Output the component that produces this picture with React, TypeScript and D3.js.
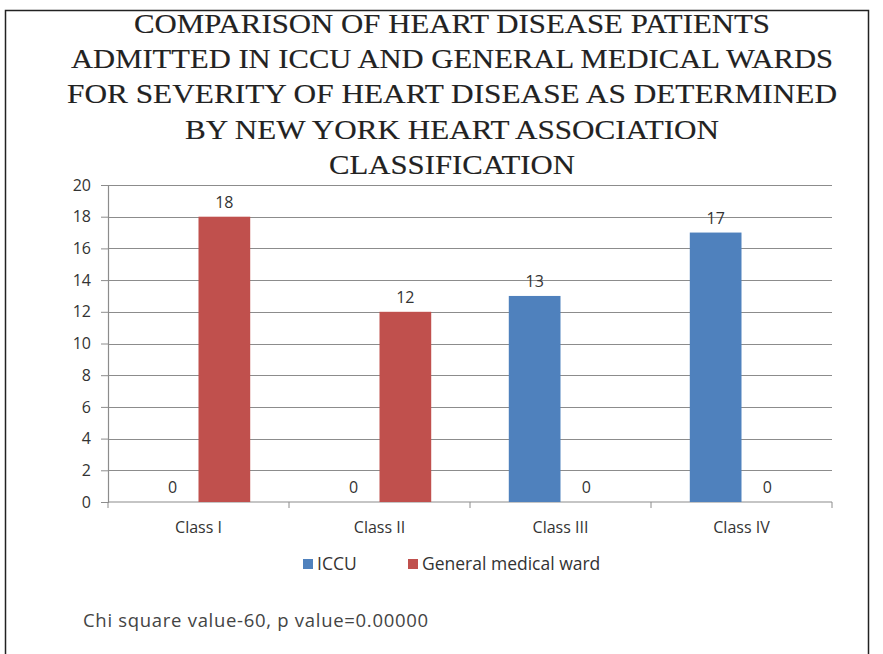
import React, { useEffect, useRef } from 'react';
import * as d3 from 'd3';

const titleLines = [
  'COMPARISON OF HEART DISEASE PATIENTS',
  'ADMITTED IN ICCU AND GENERAL MEDICAL WARDS',
  'FOR  SEVERITY OF HEART DISEASE AS DETERMINED',
  'BY NEW YORK HEART ASSOCIATION',
  'CLASSIFICATION',
];
const categories = ['Class I', 'Class II', 'Class III', 'Class IV'];
const seriesNames = ['ICCU', 'General medical ward'];
const iccu = [0, 0, 13, 17];
const generalWard = [18, 12, 0, 0];
const yTicks = [0, 2, 4, 6, 8, 10, 12, 14, 16, 18, 20];
const footnote = 'Chi square value-60, p value=0.00000';

const colors = ['#4f81bd', '#c0504d'];
// rendered widths of the title lines in the original
const titleWidths = [636, 762, 770, 534, 246];

const App = () => {
  const ref = useRef<SVGSVGElement>(null);

  useEffect(() => {
    const W = 883;
    const H = 654;
    const margin = { top: 185, right: 51, bottom: 152, left: 108 };
    const width = W - margin.left - margin.right;
    const height = H - margin.top - margin.bottom;
    const sans = '"Open Sans", Lato, sans-serif';

    const svg = d3.select(ref.current);
    svg.selectAll('*').remove();

    svg.append('rect').attr('width', W).attr('height', H).attr('fill', '#fff');

    // frame
    svg
      .append('path')
      .attr('d', `M5.5,${H} V10.5 H868.5 V${H}`)
      .attr('fill', 'none')
      .attr('stroke', '#222')
      .attr('stroke-width', 1.5);

    // title
    svg
      .append('g')
      .selectAll('text')
      .data(titleLines)
      .join('text')
      .attr('x', 452)
      .attr('y', (d, i) => 33 + i * 35.2)
      .attr('text-anchor', 'middle')
      .attr('font-family', '"Liberation Serif", "Times New Roman", serif')
      .attr('font-size', 27)
      .attr('fill', '#222')
      .attr('stroke', '#222')
      .attr('stroke-width', 0.15)
      .attr('textLength', (d, i) => titleWidths[i])
      .attr('lengthAdjust', 'spacingAndGlyphs')
      .text((d) => d);

    const g = svg.append('g').attr('transform', `translate(${margin.left},${margin.top})`);

    const x0 = d3.scaleBand().domain(categories).range([0, width]).paddingInner(0).paddingOuter(0);
    const x1 = d3
      .scaleBand()
      .domain(seriesNames)
      .range([0, x0.bandwidth()])
      .paddingInner(0)
      .paddingOuter(0.75);
    const y = d3.scaleLinear().domain([0, 20]).range([height, 0]);

    // gridlines
    g.append('g')
      .selectAll('line')
      .data(yTicks.filter((t) => t > 0))
      .join('line')
      .attr('x1', 0)
      .attr('x2', width)
      .attr('y1', (d) => Math.round(y(d)) + 0.5)
      .attr('y2', (d) => Math.round(y(d)) + 0.5)
      .attr('stroke', '#8c8c8c')
      .attr('stroke-width', 1.2);

    // y axis
    const yAxis = g
      .append('g')
      .call(d3.axisLeft(y).tickValues(yTicks).tickSize(7).tickPadding(10));
    yAxis.select('.domain').attr('stroke', '#8c8c8c').attr('stroke-width', 1.2);
    yAxis.selectAll('line').attr('stroke', '#8c8c8c');
    yAxis
      .selectAll('text')
      .attr('font-family', sans)
      .attr('font-size', 16)
      .attr('fill', '#333');

    // x axis
    const xAxisG = g.append('g').attr('transform', `translate(0,${height})`);
    xAxisG
      .append('line')
      .attr('x1', 0)
      .attr('x2', width)
      .attr('stroke', '#8c8c8c')
      .attr('stroke-width', 1.2);
    xAxisG
      .selectAll('line.tick')
      .data(d3.range(categories.length + 1))
      .join('line')
      .attr('class', 'tick')
      .attr('x1', (i) => (i === categories.length ? width : x0(categories[i])!))
      .attr('x2', (i) => (i === categories.length ? width : x0(categories[i])!))
      .attr('y1', 0)
      .attr('y2', 6)
      .attr('stroke', '#8c8c8c');
    xAxisG
      .selectAll('text')
      .data(categories)
      .join('text')
      .attr('x', (d) => x0(d)! + x0.bandwidth() / 2)
      .attr('y', 31)
      .attr('text-anchor', 'middle')
      .attr('font-family', sans)
      .attr('font-size', 16)
      .attr('fill', '#333')
      .text((d) => d);

    // bars
    const rows = categories.map((c, i) => ({
      category: c,
      values: [
        { key: seriesNames[0], value: iccu[i] },
        { key: seriesNames[1], value: generalWard[i] },
      ],
    }));

    const groups = g
      .append('g')
      .selectAll('g')
      .data(rows)
      .join('g')
      .attr('transform', (d) => `translate(${x0(d.category)},0)`);

    groups
      .selectAll('rect')
      .data((d) => d.values)
      .join('rect')
      .attr('x', (d) => x1(d.key)!)
      .attr('width', x1.bandwidth())
      .attr('y', (d) => y(d.value))
      .attr('height', (d) => height - y(d.value))
      .attr('fill', (d, i) => colors[i]);

    groups
      .selectAll('text')
      .data((d) => d.values)
      .join('text')
      .attr('x', (d) => x1(d.key)! + x1.bandwidth() / 2)
      .attr('y', (d) => y(d.value) - 9)
      .attr('text-anchor', 'middle')
      .attr('font-family', sans)
      .attr('font-size', 16)
      .attr('fill', '#333')
      .text((d) => d.value);

    // legend
    const legend = svg.append('g').attr('transform', 'translate(303,564)');
    const legendX = [0, 105];
    seriesNames.forEach((name, i) => {
      legend
        .append('rect')
        .attr('x', legendX[i])
        .attr('y', -5)
        .attr('width', 10)
        .attr('height', 10)
        .attr('fill', colors[i]);
      legend
        .append('text')
        .attr('x', legendX[i] + 14)
        .attr('y', 6)
        .attr('font-family', sans)
        .attr('font-size', 17.5)
        .attr('fill', '#333')
        .text(name);
    });

    // footnote
    svg
      .append('text')
      .attr('x', 83)
      .attr('y', 627)
      .attr('font-family', sans)
      .attr('font-size', 18.5)
      .attr('letter-spacing', 0.7)
      .attr('fill', '#444')
      .text(footnote);
  }, []);

  return (
    <div style={{ position: 'absolute', left: 0, top: 0 }}>
      <svg ref={ref} width={883} height={654} style={{ display: 'block' }} />
    </div>
  );
};

export default App;
